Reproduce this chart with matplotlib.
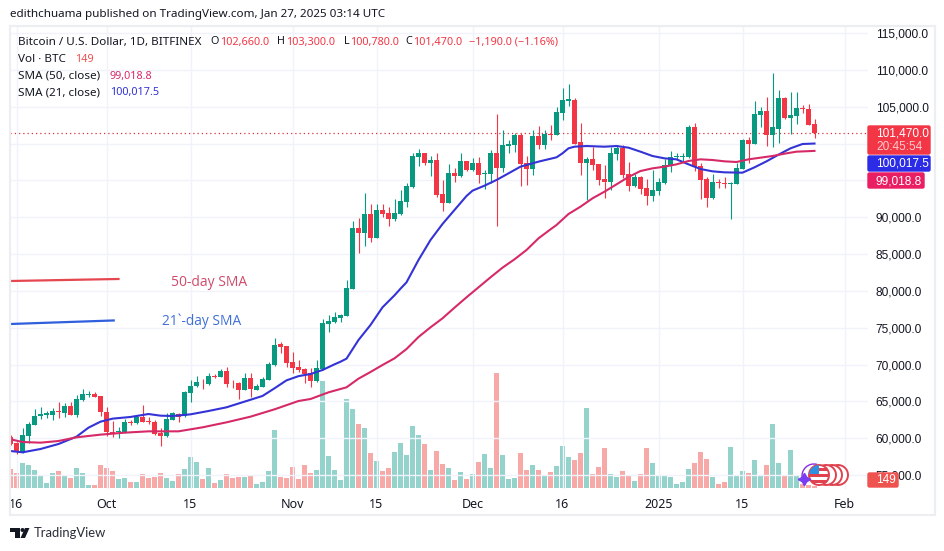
import matplotlib
matplotlib.use("Agg")
import matplotlib.pyplot as plt
import matplotlib.dates as mdates
from matplotlib.patches import Rectangle, Circle, Polygon, FancyBboxPatch, Arc
from matplotlib.ticker import FuncFormatter
import pandas as pd

START = "2024-09-15"
opens = [60135,59320,58053,60316,61854,63076,63121,63212,63710,63483,64388,63121,65203,65927,66017,65746,
 63529,60904,60859,60814,62216,62126,62895,62352,62216,60723,60316,62533,63348,62986,66198,67103,67692,67375,68461,68370,69094,67556,67510,66606,68189,66606,67013,67963,69954,72805,72533,
 70361,69728,69366,68823,67827,69411,75520,75791,76334,76651,80271,88507,87918,90452,87240,90995,90542,89773,90452,92081,94072,98190,98687,97420,97782,93122,91990,96018,95610,97601,
 96425,97330,95927,95927,98687,96742,99728,99864,101176,97330,96606,101040,99864,101312,101221,104208,105792,105927,100226,97420,97918,97239,95203,94841,98642,99457,95836,94252,95519,93981,92895,
 93619,94660,97013,98144,98234,98234,102262,96967,95157,92623,94750,94660,94569,94569,96605,100497,99999,103936,104434,101221,102035,106198,103529,103800,104841,104660,102660]
highs = [60452,59547,61357,62262,63981,64207,63710,64072,64886,64841,64977,65882,66651,66470,66289,65800,
 64207,62352,61583,62669,62488,63167,64524,62940,62488,61357,63483,63574,63393,66470,67873,68461,68008,68868,68732,69366,69683,67918,67600,68823,68823,67375,68280,70407,73574,73076,72580,
 71719,70633,69502,69592,70633,76153,76742,77104,76877,81493,89502,89864,93348,91809,91809,91809,91357,92443,93710,94705,98733,99230,98760,98325,98687,95067,97194,96651,98687,97650,
 98009,98145,96425,99140,104027,101855,100497,101493,101403,98325,101855,102398,101855,102534,105022,107511,108099,106244,102760,98145,99592,97300,97104,99502,99819,99819,97510,95881,95600,95157,96424,
 95338,97872,99004,98687,98777,102533,102759,97329,95519,95881,95157,95519,94750,97420,100678,100949,105746,104931,106379,109547,107284,106379,107013,107013,105203,105384,103300]
lows = [59094,57827,57963,59411,61764,62578,62714,62488,62805,62940,63167,62895,65112,65655,65565,63076,
 60361,60135,60090,60678,61809,61945,62171,61945,60452,58958,60225,62488,62216,62850,64977,66968,66741,67284,68144,68280,67013,66787,65384,66560,65655,66560,66968,67873,69864,71628,69728,
 68913,69049,67556,67013,67692,69275,74479,75701,75791,76606,80226,85203,86108,86697,87149,89999,88869,89547,90271,91357,94027,97013,97104,95610,92805,90904,91900,94796,95520,96289,
 96334,94705,93891,94615,88868,96153,98778,98868,94298,94389,95746,99321,99321,100497,101176,103212,105158,99955,95746,92352,96425,94389,92669,93710,97782,95294,93619,94162,93166,91718,92261,
 93076,94569,96153,97782,97556,98099,96289,92488,91447,92533,93981,93936,89818,94524,96560,97420,99954,102307,99728,99592,100135,103302,101311,102669,104207,102533,100780]
closes = [59230,58325,60452,61900,63031,63348,63483,63664,63574,64343,63212,65339,66017,66063,65610,63529,
 60904,60633,60995,62216,62126,62940,62262,62262,60633,60361,62578,63393,62940,66334,67103,67646,67601,68461,68370,69140,67420,67465,66606,68189,66696,67103,68054,70090,72669,72443,70226,
 69592,69321,68732,67827,69502,75610,75882,76425,76742,80362,88552,87873,90452,87149,90995,90452,89773,90542,92217,94253,98325,98778,97420,97782,93031,91990,95972,95656,97647,96380,
 97375,95791,96063,98687,96742,99819,99954,101176,97285,96606,101040,99864,101312,101221,104298,105927,106018,100000,97420,97918,97104,95113,94796,98733,99457,95701,94298,95519,93890,92895,93709,
 94795,97058,98144,98280,98325,102262,96877,95067,92623,94795,94614,94524,94660,96696,100497,99999,104026,104434,101221,102262,106198,103483,103891,104841,104750,102578,101470]
volumes = [1120,880,1480,1360,1060,700,280,880,1000,700,580,1180,880,160,160,1360,
 1180,1000,520,580,340,340,820,580,640,880,580,400,820,1120,1840,1540,520,1180,280,460,820,580,640,640,700,220,340,1000,3460,640,580,
 1260,540,1380,900,1080,6420,1920,1080,480,5340,4740,3840,3600,2100,1620,1020,1200,2160,2700,1980,3720,3180,2640,1080,2220,1440,1200,480,960,540,
 840,1560,2040,1200,6920,1980,540,600,2100,1080,1380,1080,780,960,1320,2520,1860,1680,2100,4800,840,1260,2400,840,660,1020,720,420,840,2400,1500,
 780,780,660,240,360,1140,1500,2160,1740,660,240,360,2460,720,1020,900,1680,780,1380,3840,1500,720,2280,720,240,180,149]

sma21_days = [0,2,5,8,11,13,15,17,20,23,25,27,30,33,36,39,42,44,46,48,50,52,54,55,56,58,60,62,64,65,66,68,70,72,74,76,77,79,81,83,85,88,91,92,93,94,96,99,101,103,105,107,109,111,113,115,117,119,122,124,126,128,130,132,134]
sma21 = [58280,58100,58550,59230,60225,61447,62260,62670,62900,63300,63076,63030,63257,63710,64210,64980,65750,66790,67870,68440,68730,69275,70045,70400,70815,73348,75384,77783,79411,80316,81176,84208,86923,89095,90996,92895,93620,94300,95070,95970,96880,97560,98145,98690,99370,99590,99680,99590,99680,99456,98913,98325,98008,97872,97194,96560,96244,96108,96063,96787,97600,98506,99366,99954,100017.5]
sma50_days = [0,2,5,8,11,15,19,23,28,32,36,40,44,48,50,53,56,58,60,62,64,66,68,70,72,74,76,78,80,82,84,86,88,90,91,93,95,97,99,101,103,105,107,109,111,113,115,117,119,121,123,125,127,129,131,134]
sma50 = [59864,59500,59410,59637,60135,60500,60768,60950,60950,61492,62171,62940,63936,65067,65338,66243,66922,68099,69004,69954,70859,72120,73755,75068,76289,77737,79140,80498,81855,83167,84300,85565,87149,88371,88959,90452,91447,92579,93484,94479,95475,96288,96650,96877,97194,97646,97872,97782,97601,97510,97872,98099,98325,98642,98913,99018.8]

tick_dates = ["2024-09-16","2024-10-01","2024-10-15","2024-11-01","2024-11-15","2024-12-01","2024-12-16","2025-01-01","2025-01-15","2025-02-01"]
tick_labels = ["16","Oct","15","Nov","15","Dec","16","2025","15","Feb"]
price_ticks = [55000,60000,65000,70000,75000,80000,85000,90000,95000,100000,105000,110000,115000]
hidden_price_labels = [100000]

UP, DOWN = "#089981", "#F23645"
UP_V, DOWN_V = "#93d3cc", "#f7a9a7"
BLUE, PINK = "#3333d6", "#d62a68"
TXT = "#131722"
W, H = 945, 551
plt.rcParams["font.family"] = ["Noto Sans", "DejaVu Sans"]

dates = pd.date_range(START, periods=len(closes), freq="D")
x = mdates.date2num(dates)
x0 = x[0]

fig = plt.figure(figsize=(W / 100, H / 100), dpi=100, facecolor="white")
L, R, T, B = 10, 868, 26, 489
pos = [L / W, 1 - B / H, (R - L) / W, (B - T) / H]
PX_D = 6.0          # pixels per day
PX_P = 135.75       # dollars per pixel

ax_v = fig.add_axes(pos, zorder=1)
ax = fig.add_axes(pos, zorder=2, sharex=ax_v)
ax.patch.set_visible(False)
xlim = (x0 - 0.5 / PX_D, x0 - 0.5 / PX_D + (R - L) / PX_D)
ylim = (110000 - (B - 70) * PX_P, 110000 + (70 - T) * PX_P)
ax.set_xlim(*xlim)
ax.set_ylim(*ylim)
ax_v.set_ylim(-60, (B - T - 1) * 60)
ax_v.axis("off")

# volume
ax_v.bar(x, volumes, width=5 / PX_D,
         color=[UP_V if c >= o else DOWN_V for o, c in zip(opens, closes)], linewidth=0)

# candles
for xi, o, h, l, c in zip(x, opens, highs, lows, closes):
    col = UP if c >= o else DOWN
    ax.plot([xi, xi], [l, h], color=col, lw=0.8, solid_capstyle="butt", zorder=3)
    ax.bar(xi, max(abs(c - o), 60), bottom=min(o, c), width=5 / PX_D, color=col, linewidth=0, zorder=4)

# moving averages
ax.plot(x0 + pd.Series(sma21_days), sma21, color=BLUE, lw=1.5, zorder=5, solid_joinstyle="round")
ax.plot(x0 + pd.Series(sma50_days), sma50, color=PINK, lw=1.5, zorder=5, solid_joinstyle="round")

# last price line
ax.axhline(closes[-1], color="#e0303f", lw=0.9, ls=(0, (1, 2.4)), zorder=2)

# hand-drawn annotations
ax.plot([x0, x0 + 18], [81357, 81630], color="#e5474f", lw=1.6, zorder=5)
ax.plot([x0, x0 + 17.2], [75520, 76000], color="#2f5fdc", lw=1.6, zorder=5)
ax.text(x0 + 26.7, 81150, "50-day SMA", color="#cf4a6c", fontsize=10, va="center", family="Open Sans")
ax.text(x0 + 25.3, 75850, "21`-day SMA", color="#3f6fd8", fontsize=9.9, va="center", family="Open Sans")

# axes
ax.set_xticks(mdates.date2num(pd.to_datetime(tick_dates)))
ax.set_xticklabels(tick_labels)
ax.set_yticks(price_ticks)
ax.yaxis.set_major_formatter(FuncFormatter(lambda v, _: "" if v in hidden_price_labels else f"{v:,.1f}"))
ax.yaxis.tick_right()
ax.tick_params(axis="y", length=0, pad=5.5, labelsize=8.6, colors=TXT, labelfontfamily="Liberation Sans")
ax.tick_params(axis="x", length=0, pad=6.5, labelsize=9, colors=TXT, labelfontfamily="Noto Sans")
ax.grid(True, color="#f0f3fa", lw=1)
ax.set_axisbelow(True)
for s in ax.spines.values():
    s.set_visible(False)

# overlay in pixel space for page furniture
ov = fig.add_axes([0, 0, 1, 1], zorder=5)
ov.set_xlim(0, W)
ov.set_ylim(H, 0)
ov.axis("off")
ov.patch.set_visible(False)
ov.add_patch(Rectangle((9.5, 26), 925.5, 489, fill=False, ec="#eceef1", lw=1.6))

hf = dict(fontsize=8.4, va="center", ha="left", color=TXT)
vf = dict(fontsize=7.8, va="center", ha="left")
ov.text(10, 15, "edithchuama published on TradingView.com, Jan 27, 2025 03:14 UTC", **hf)
ov.text(18, 42, "Bitcoin / U.S. Dollar, 1D, BITFINEX", **hf)
for xp, s, c in [(210, "O", TXT), (220, "102,660.0", DOWN), (277, "H", TXT), (286, "103,300.0", DOWN),
                 (344, "L", TXT), (350, "100,780.0", DOWN), (405, "C", TXT), (413, "101,470.0", DOWN),
                 (469, "\u22121,190.0 (\u22121.16%)", DOWN)]:
    ov.text(xp, 42, s, color=c, **vf)
ov.text(18, 59, "Vol \u00b7 BTC", **hf)
ov.text(75, 59, "149", color="#ef5350", **vf)
ov.text(18, 76, "SMA (50, close)", **hf)
ov.text(110, 76, "99,018.8", color=PINK, **vf)
ov.text(18, 93, "SMA (21, close)", **hf)
ov.text(110, 93, "100,017.5", color=BLUE, **vf)

def tag(x0_, x1, y0, y1, col):
    ov.add_patch(FancyBboxPatch((x0_, y0 + 1), x1 - x0_ - 1, y1 - y0 - 2,
                                boxstyle="round,pad=0,rounding_size=1.5", fc=col, ec=col, lw=1, zorder=6))

tf = dict(family="Liberation Sans", fontsize=8.6, va="center", ha="left", zorder=7)
tag(868, 931, 125, 155, DOWN)
tag(868, 931, 155, 172, "#2c2ce6")
tag(868, 925, 172, 189, "#e91e63")
tag(868, 899, 472, 488, "#ef5350")
ov.text(876, 133, "101,470.0", color="white", **tf)
ov.text(876, 147, "20:45:54", color="#ffc9cf", **tf)
ov.text(876, 164, "100,017.5", color="white", **tf)
ov.text(876, 181, "99,018.8", color="white", **tf)
ov.text(876, 480, "149", color="white", **tf)

# news/flag badge
for cx in [838, 832, 826]:
    ov.add_patch(Circle((cx, 475), 10, fc="white", ec="#e0434f", lw=1.4, zorder=6))
face = Circle((819, 475), 10, fc="white", ec="#e0434f", lw=1.4, zorder=7)
ov.add_patch(face)
for yy in (467.5, 473.5, 479.5):
    r = Rectangle((809, yy), 20, 3, fc="#e0434f", ec="none", zorder=7.1)
    ov.add_patch(r); r.set_clip_path(face)
r = Rectangle((809, 465), 10, 9, fc="#2f8fe0", ec="none", zorder=7.2)
ov.add_patch(r); r.set_clip_path(face)
ov.add_patch(Arc((814, 476), 24, 24, theta1=170, theta2=285, color="#8a2be2", lw=1, zorder=5.5))
ov.plot([804], [479], marker=(4, 1, 0), ms=9, color="#7a3cf0", zorder=8)

# footer logo
ov.add_patch(Polygon([(10, 528), (20, 528), (20, 538), (15, 538), (15, 532), (10, 532)], fc="#131722", ec="none"))
ov.add_patch(Circle((22.5, 530), 2, fc="#131722", ec="none"))
ov.add_patch(Polygon([(25, 528), (29.5, 528), (25, 538), (20.5, 538)], fc="#131722", ec="none"))
ov.text(33.5, 533, "TradingView", fontsize=9.4, va="center", ha="left", color="#2a2e39", family="Lato")

fig.savefig("out.png", dpi=100, facecolor="white")
